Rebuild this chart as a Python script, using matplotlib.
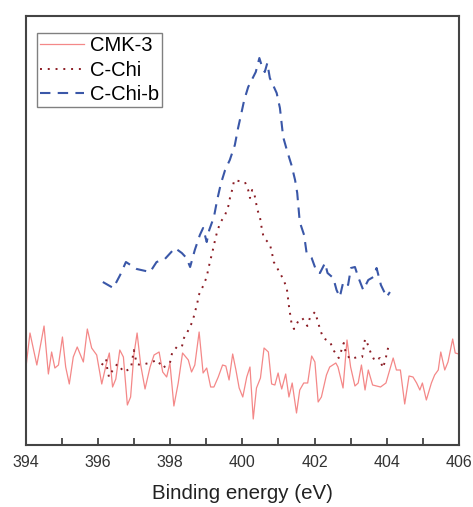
import numpy as np
import matplotlib
matplotlib.use('Agg')
import matplotlib.pyplot as plt
from matplotlib.ticker import MultipleLocator, NullLocator

plt.rcParams['font.family'] = ['Liberation Sans', 'DejaVu Sans']

# CMK-3 (binding energy in eV, intensity in a.u.)
cmk_x = [394.00, 394.11, 394.30, 394.50, 394.62, 394.71, 394.80, 394.90, 395.01, 395.10,
         395.20, 395.31, 395.42, 395.59, 395.70, 395.82, 395.96, 396.10, 396.22, 396.31,
         396.40, 396.49, 396.60, 396.70, 396.81, 396.90, 396.99, 397.08, 397.18, 397.30,
         397.44, 397.55, 397.69, 397.79, 397.90, 397.99, 398.10, 398.22, 398.34, 398.50,
         398.59, 398.68, 398.80, 398.91, 399.01, 399.12, 399.21, 399.33, 399.45, 399.54,
         399.63, 399.73, 399.82, 399.91, 400.01, 400.12, 400.21, 400.30, 400.39, 400.50,
         400.60, 400.72, 400.81, 400.90, 400.99, 401.04, 401.09, 401.20, 401.29, 401.38,
         401.50, 401.59, 401.70, 401.81, 401.92, 402.01, 402.10, 402.19, 402.33, 402.42,
         402.59, 402.65, 402.79, 402.90, 403.00, 403.12, 403.21, 403.30, 403.40, 403.49,
         403.61, 403.72, 403.83, 403.98, 404.18, 404.27, 404.38, 404.50, 404.62, 404.73,
         404.83, 404.92, 404.99, 405.10, 405.24, 405.33, 405.43, 405.50, 405.61, 405.70,
         405.83, 405.90, 406.00]
cmk_y = [78, 112, 80, 119, 71, 93, 77, 80, 108, 78,
         61, 88, 98, 83, 116, 97, 90, 61, 80, 92,
         58, 66, 95, 88, 40, 48, 90, 112, 80, 56,
         78, 90, 93, 73, 68, 82, 39, 62, 92, 85,
         73, 80, 113, 72, 77, 58, 58, 68, 80, 79,
         65, 91, 75, 57, 48, 68, 78, 26, 57, 67,
         97, 93, 61, 60, 72, 63, 56, 71, 48, 62,
         32, 55, 62, 62, 89, 83, 43, 48, 70, 78,
         82, 78, 57, 105, 78, 59, 62, 80, 55, 75,
         60, 59, 58, 62, 87, 75, 75, 41, 69, 68,
         62, 55, 62, 45, 62, 70, 75, 93, 75, 83,
         106, 92, 91]

# C-Chi
chi_x = [396.10, 396.22, 396.25, 396.30, 396.39, 396.53, 396.72, 396.91, 396.99, 397.07,
         397.18, 397.41, 397.64, 397.79, 397.99, 398.05, 398.18, 398.32, 398.38, 398.52,
         398.62, 398.75, 398.79, 398.91, 399.01, 399.06, 399.12, 399.18, 399.23, 399.29,
         399.38, 399.52, 399.61, 399.66, 399.73, 399.77, 399.90, 400.07, 400.16, 400.21,
         400.27, 400.32, 400.37, 400.41, 400.49, 400.53, 400.58, 400.65, 400.76, 400.82,
         400.87, 401.01, 401.13, 401.23, 401.29, 401.36, 401.43, 401.55, 401.66, 401.80,
         401.87, 402.01, 402.08, 402.15, 402.24, 402.43, 402.54, 402.67, 402.73, 402.81,
         402.86, 402.98, 403.21, 403.32, 403.40, 403.46, 403.55, 403.67, 403.81, 403.89,
         403.95, 404.07]
chi_y = [80, 86, 77, 68, 74, 81, 73, 77, 95, 81,
         80, 82, 85, 77, 82, 92, 98, 98, 107, 116,
         124, 142, 150, 159, 168, 177, 186, 195, 203, 212,
         222, 230, 239, 248, 257, 265, 264, 263, 255, 247,
         255, 253, 244, 236, 227, 218, 209, 205, 201, 192,
         183, 174, 166, 157, 139, 122, 116, 124, 127, 119,
         127, 133, 125, 116, 107, 103, 94, 87, 93, 102,
         93, 86, 88, 88, 106, 102, 93, 84, 87, 77,
         83, 102]

# C-Chi-b
chib_x = [396.13, 396.42, 396.61, 396.77, 397.07, 397.44, 397.62, 397.85, 398.13, 398.32,
          398.45, 398.55, 398.68, 398.82, 398.91, 399.01, 399.08, 399.21, 399.30, 399.40,
          399.52, 399.65, 399.79, 399.88, 399.96, 400.05, 400.16, 400.37, 400.47, 400.53,
          400.62, 400.69, 400.76, 400.95, 401.04, 401.13, 401.24, 401.36, 401.46, 401.52,
          401.59, 401.71, 401.78, 401.92, 402.06, 402.15, 402.29, 402.36, 402.52, 402.61,
          402.70, 402.79, 402.89, 402.93, 403.01, 403.12, 403.21, 403.35, 403.49, 403.63,
          403.72, 403.84, 404.00, 404.09]
chib_y = [163, 157, 170, 183, 176, 173, 183, 186, 197, 192,
          187, 178, 195, 210, 217, 203, 215, 228, 245, 261,
          275, 285, 300, 317, 330, 345, 358, 373, 387, 380,
          373, 382, 367, 352, 337, 308, 294, 280, 265, 252,
          223, 210, 192, 187, 173, 172, 182, 172, 167, 155,
          148, 162, 163, 160, 177, 178, 168, 155, 165, 168,
          177, 160, 148, 153]

fig = plt.figure(figsize=(4.73, 5.07), dpi=100)
ax = fig.add_axes([0.055, 0.1223, 0.915, 0.8461])

ax.plot(cmk_x, cmk_y, color='#f48888', linewidth=0.9, label='CMK-3')
ax.plot(chi_x, chi_y, color='#8b1c24', linewidth=1.4, linestyle=(0, (1, 3)), label='C-Chi')
ax.plot(chib_x, chib_y, color='#3a57a8', linewidth=1.5, linestyle=(0, (5, 3.5)), label='C-Chi-b')

ax.set_xlim(394, 406)
ax.set_ylim(0, 429)
ax.xaxis.set_major_locator(MultipleLocator(2))
ax.xaxis.set_minor_locator(MultipleLocator(1))
ax.yaxis.set_major_locator(NullLocator())
ax.tick_params(axis='x', which='both', direction='in', length=5, width=1.2,
               labelsize=11.5, pad=7, colors='#333333')
for s in ax.spines.values():
    s.set_linewidth(1.5)
    s.set_color('#444444')

ax.set_xlabel('Binding energy (eV)', fontsize=14.8, labelpad=10, color='#222222')

leg = ax.legend(loc='upper left', bbox_to_anchor=(0.025, 0.96), fontsize=14.5,
                frameon=True, fancybox=False, edgecolor='#808080', framealpha=1,
                handlelength=2.2, handletextpad=0.3, labelspacing=0.28,
                borderpad=0.15, borderaxespad=0)
leg.get_frame().set_linewidth(1.0)

fig.savefig('out.png', dpi=100)
